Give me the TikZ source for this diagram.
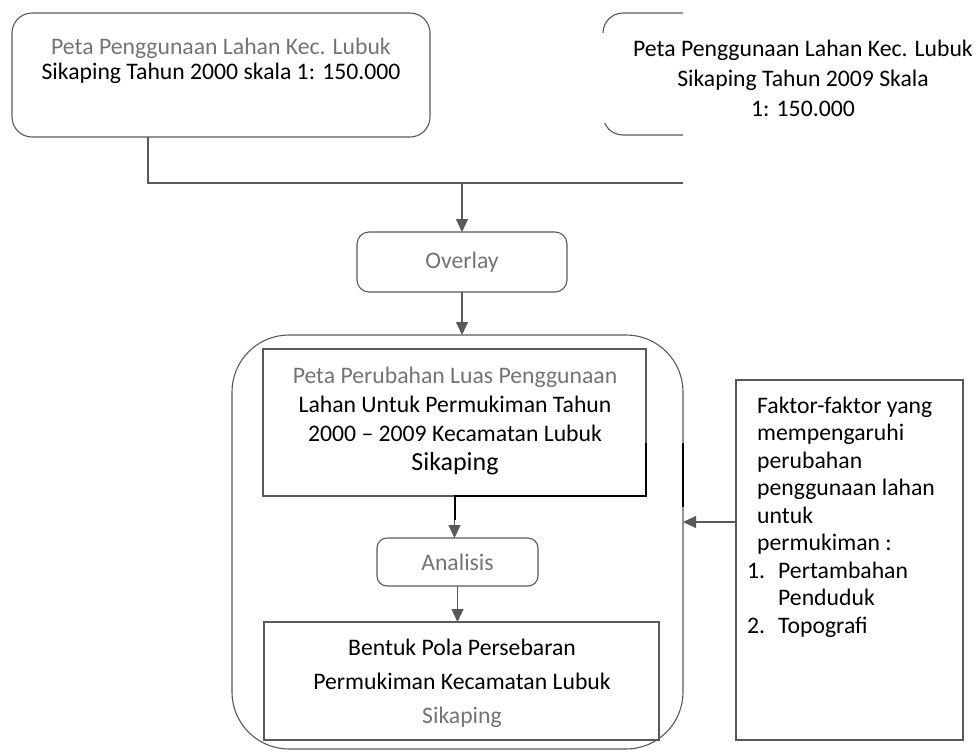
\documentclass[tikz,border=0pt]{standalone}
\usepackage{fontspec}
\setmainfont{Carlito}
\usetikzlibrary{arrows.meta}
\definecolor{linegray}{gray}{0.35}
\definecolor{txtgray}{gray}{0.45}
\begin{document}
\begin{tikzpicture}[x=1pt,y=-1pt,
  boxbase/.style={draw=linegray, line width=1.1pt, inner sep=0pt, outer sep=0pt, anchor=north west},
  roundbox/.style={boxbase, rounded corners=#1},
  sqbox/.style={boxbase},
  txt/.style={inner sep=0pt, align=center, font=\fontsize{23.7}{#1}\selectfont},
  arr/.style={draw=linegray, line width=1.1pt, -{Triangle[length=13pt,width=12pt]}},
  conn/.style={draw=linegray, line width=1.1pt},
  scanmark/.style={draw=black, line width=2pt}
]
\useasboundingbox (0,0) rectangle (977,753);

% top left map box
\node[roundbox=20pt, minimum width=418pt, minimum height=124pt] (A) at (12,13) {};
\node[txt=25.5pt] (At) at (221,61) {\textcolor{txtgray}{Peta Penggunaan Lahan Kec. Lubuk}\\Sikaping Tahun 2000 skala 1: 150.000};

% top right map box (cut off in the picture)
\begin{scope}
  \clip (0,0) rectangle (683,200);
  \node[roundbox=20pt, minimum width=360pt, minimum height=122pt] (B) at (603,13) {};
  \coordinate (j1) at (148,183);
  \coordinate (j2) at (803,183);
  \draw[conn] (A.south -| j1) -- (j1) -- (j2) -- (B.south -| j2);
\end{scope}
\fill[white] (600,33) rectangle (977,123);
\node[txt=30pt] (Bt) at (803,78) {Peta Penggunaan Lahan Kec. Lubuk\\Sikaping Tahun 2009 Skala\\1: 150.000};

% overlay
\coordinate (J) at (462,183);
\node[roundbox=12pt, minimum width=210pt, minimum height=60pt, text=txtgray, font=\fontsize{23.7}{28}\selectfont] (O) at (357,232) {Overlay};
\draw[arr] (J) -- (O.north);

% large container
\node[roundbox=57pt, minimum width=451pt, minimum height=414pt] (L) at (232,335) {};
\draw[arr] (O.south) -- (L.north -| O.south);

% change map box
\node[sqbox, minimum width=383pt, minimum height=147pt] (T) at (263,349) {};
\node[txt=29pt] (Tt) at (455,421) {\textcolor{txtgray}{Peta Perubahan Luas Penggunaan}\\Lahan Untuk Permukiman Tahun\\2000 -- 2009 Kecamatan Lubuk\\{\fontsize{26}{29}\selectfont Sikaping}};

% analysis
\node[roundbox=10pt, minimum width=161pt, minimum height=48pt, text=txtgray, font=\fontsize{23.7}{28}\selectfont] (An) at (377,538) {Analisis};
\draw[arr] (T.south) -- (An.north -| T.south);

% result box
\node[sqbox, minimum width=395pt, minimum height=118pt] (Bo) at (264,622) {};
\node[txt=34pt] (Bot) at (462,683) {Bentuk Pola Persebaran\\Permukiman Kecamatan Lubuk\\\textcolor{txtgray}{Sikaping}};
\draw[arr] (An.south) -- (Bo.north -| An.south);

% scan marks (dark strokes)
\draw[scanmark] (455,520) -- (455,496) -- (646,496) -- (646,443);
\draw[scanmark] (683,443) -- (683,507);

% factors box
\node[sqbox, minimum width=227pt, minimum height=360pt] (R) at (736,380) {};
\node[inner sep=0pt, align=left, anchor=west, font=\fontsize{23.7}{27.5}\selectfont] (Rt) at (747,517) {%
\hspace*{10pt}Faktor-faktor yang\\
\hspace*{10pt}mempengaruhi\\
\hspace*{10pt}perubahan\\
\hspace*{10pt}penggunaan lahan\\
\hspace*{10pt}untuk\\
\hspace*{10pt}permukiman :\\
\makebox[31pt][l]{1.}Pertambahan\\
\hspace*{31pt}Penduduk\\
\makebox[31pt][l]{2.}Topografi};
\coordinate (fy) at (700,522);
\draw[arr] (R.west |- fy) -- (L.east |- fy);
\end{tikzpicture}
\end{document}
